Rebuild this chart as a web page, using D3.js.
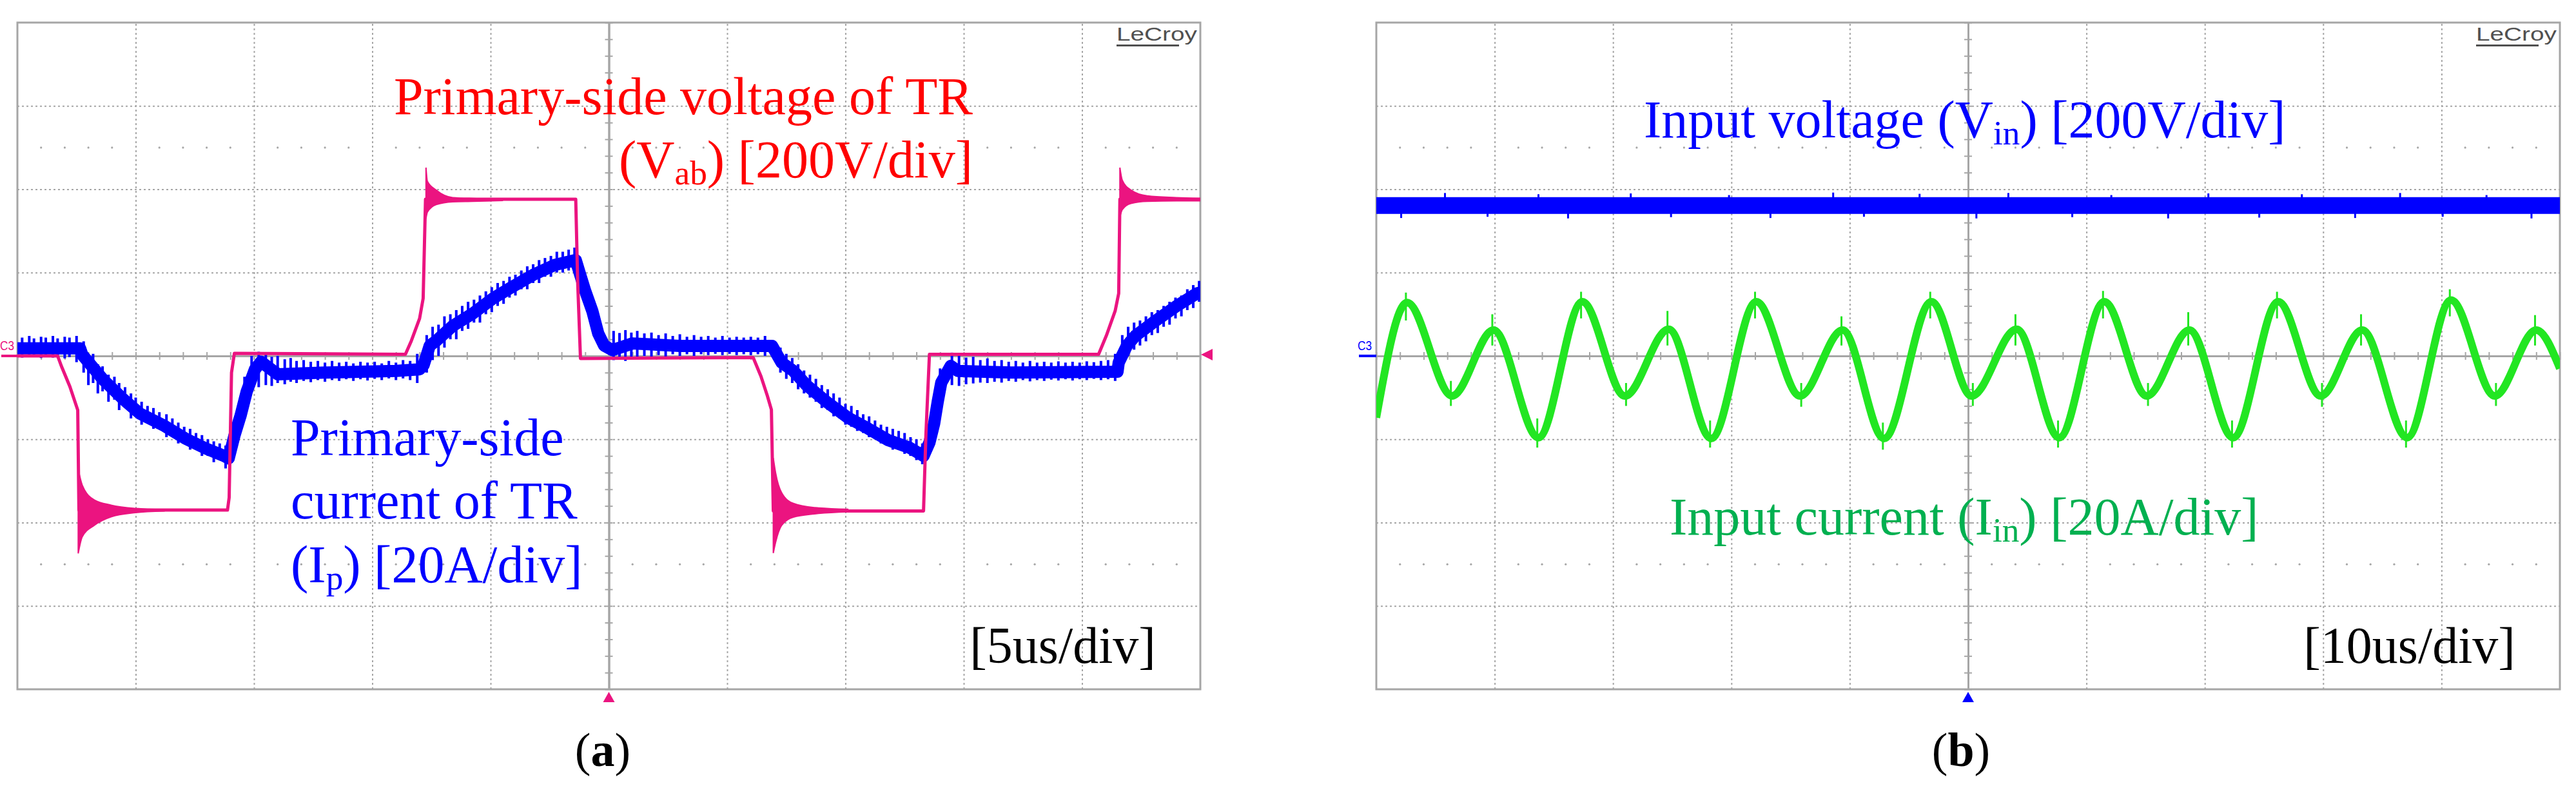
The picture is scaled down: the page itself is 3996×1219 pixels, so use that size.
<!DOCTYPE html>
<html>
<head>
<meta charset="utf-8">
<script src="https://cdn.jsdelivr.net/npm/d3@7/dist/d3.min.js"></script>
<style>
  body { margin: 0; background: #fff; }
  svg text { font-family: "Liberation Serif", "Times New Roman", serif; }
</style>
</head>
<body>
<svg width="3996" height="1219"></svg>
<script>
// ---------- (a) 5 us/div : Vab [V] 200 V/div, Ip [A] 20 A/div ----------
const vabTime = [0, 1.7, 1.87, 2.22, 2.55, 2.6, 8.88, 8.95, 9.05, 9.17, 16.4, 16.65, 17.0, 17.15, 17.25,
  23.6, 23.68, 23.8, 31.1, 31.43, 31.7, 31.87, 31.95, 38.3, 38.4, 38.55, 45.7, 46.03, 46.4, 46.55, 46.6, 50];
const vabVolt = [0, 0, -26, -74, -130, -370, -370, -340, -40, 6, 4, 36, 90, 138, 376,
  376, 180, -6, -4, -49, -96, -129, -372, -372, -190, 4, 4, 49, 108, 150, 376, 376];

// ringing after each switching edge: [t, upper, lower]
const vabRing1 = [[2.57, -272, -474], [2.74, -310, -434], [3.26, -346, -406], [3.96, -358, -386], [5.0, -366, -376], [6.2, -369, -372]];
const vabRing2 = [[17.27, 452, 330], [17.33, 419, 345], [17.7, 398, 363], [18.4, 380, 370], [19.25, 378, 371], [20.5, 377, 373]];
const vabRing3 = [[31.95, -245, -473], [32.05, -281, -447], [32.3, -328, -407], [32.8, -354, -387], [33.7, -364, -379], [35.1, -368, -374]];
const vabRing4 = [[46.6, 452, 333], [46.7, 422, 351], [47.07, 398, 366], [47.77, 384, 371], [48.98, 380, 372], [50, 378, 372]];

const ipTime = [0, 2.65, 2.74, 3.61, 4.48, 5.17, 6.22, 7.09, 7.96, 8.74, 8.93, 9.17, 9.43, 9.69, 10.04, 10.3, 11.0, 13.0, 16.0, 17.0,
  17.17, 17.43, 17.7, 18.4, 19.25, 20.1, 20.98, 21.85, 22.7, 23.6, 23.75, 24.0, 24.3, 24.55, 24.8, 25.15, 26.0, 28.0, 31.9,
  32.3, 32.8, 33.35, 34.2, 35.1, 35.95, 36.8, 37.7, 38.3, 38.55, 38.75, 38.9, 39.05, 39.45, 39.75, 42.0, 46.5,
  46.55, 46.9, 47.25, 48.1, 49.0, 49.85, 50];
const ipAmp = [1.8, 1.8, 0.3, -5.6, -10.4, -13.8, -16.8, -19.8, -22.2, -24, -24.6, -19.2, -14.4, -8.6, -3.2, -1.4, -4.4, -4.0, -3.6, -3.2,
  -2.2, 2.5, 3.6, 7.2, 10.2, 13.8, 16.8, 19.6, 21.8, 23.0, 20.2, 15.6, 10.8, 5.4, 2.5, 1.4, 3.0, 2.4, 2.4,
  -1.6, -3.6, -7.0, -11.0, -14.8, -17.4, -20.2, -22.0, -24.0, -20.8, -16.2, -11.0, -6.4, -2.4, -3.6, -4.0, -3.8,
  -1.6, 2.5, 4.8, 8.4, 12.0, 15.0, 15.2];

// visible switching-noise spikes on Ip: [t, low, high]
const ipSpikes = [
  [0.2, -0.4, 4.4], [0.5, 0.0, 4.8], [0.7, -0.3, 4.2], [1.0, -0.5, 4.6], [1.2, 0.0, 4.4], [1.5, -0.4, 4.8],
  [1.7, -0.2, 4.2], [2.0, -0.6, 4.6], [2.2, -0.3, 4.4], [2.5, -1.5, 4.8],
  [2.8, -4.0, 3.5], [3.0, -7.0, -0.5], [3.2, -6.5, 0.5], [3.4, -9.0, -2.0], [3.6, -8.5, -2.5], [3.85, -11.0, -4.5],
  [4.1, -10.5, -5.0], [4.3, -13.0, -6.5], [4.55, -12.5, -7.5], [4.8, -15.0, -9.0], [5.0, -14.5, -10.0], [5.25, -16.5, -11.0],
  [5.5, -16.0, -12.0], [5.75, -17.5, -12.5], [6.0, -17.5, -13.5], [6.3, -19.5, -14.0], [6.55, -19.0, -15.0], [6.8, -21.0, -16.0],
  [7.05, -21.0, -17.0], [7.3, -22.5, -17.5], [7.55, -22.0, -18.5], [7.8, -24.0, -19.0], [8.05, -24.0, -20.0], [8.3, -25.5, -20.5],
  [8.55, -25.0, -21.0], [8.8, -27.0, -21.5],
  [9.3, -20.0, -13.0], [9.6, -13.0, -5.0], [9.9, -8.0, 0.0],
  [10.2, -7.5, 1.0], [10.5, -7.0, 0.5], [10.75, -7.2, -0.2], [11.0, -6.5, 0.0], [11.3, -6.8, -0.8], [11.55, -6.2, -0.5],
  [11.8, -6.5, -1.2], [12.1, -6.0, -1.0], [12.4, -6.3, -1.4], [12.7, -5.8, -1.2], [13.0, -6.2, -1.6], [13.3, -5.8, -1.2],
  [13.6, -6.0, -1.6], [13.9, -5.6, -1.4], [14.2, -6.0, -1.8], [14.5, -5.6, -1.4], [14.8, -5.9, -1.6], [15.1, -5.5, -1.4],
  [15.4, -5.8, -1.8], [15.7, -5.4, -1.2], [16.0, -5.8, -1.6], [16.3, -5.4, -1.0], [16.6, -5.8, -1.2], [16.9, -6.5, 0.5],
  [17.3, -4.0, 5.0], [17.55, -1.0, 7.0], [17.8, 0.0, 7.5], [18.05, 2.0, 9.5], [18.3, 4.0, 10.0], [18.55, 4.0, 11.0],
  [18.8, 6.0, 12.0], [19.05, 6.5, 13.0], [19.3, 8.0, 13.5], [19.55, 8.0, 14.5], [19.8, 10.0, 15.5], [20.05, 10.5, 16.5],
  [20.3, 12.0, 17.5], [20.55, 12.5, 18.0], [20.8, 14.0, 19.0], [21.05, 14.5, 19.5], [21.3, 16.0, 20.5], [21.55, 16.0, 21.5],
  [21.8, 17.5, 22.0], [22.05, 17.5, 23.0], [22.3, 19.0, 23.5], [22.55, 19.0, 24.0], [22.8, 20.0, 25.0], [23.05, 20.0, 25.0],
  [23.3, 20.5, 25.5], [23.55, 20.5, 26.0],
  [25.2, -1.0, 6.0], [25.45, -0.5, 5.5], [25.7, -1.2, 6.2], [25.95, -0.2, 5.6], [26.2, -0.6, 6.0], [26.5, 0.0, 5.4],
  [26.8, -0.4, 5.6], [27.1, 0.2, 5.0], [27.4, -0.2, 5.4], [27.7, 0.4, 4.8], [28.0, 0.0, 5.2], [28.3, 0.4, 4.6],
  [28.6, 0.0, 5.0], [28.9, 0.4, 4.6], [29.2, 0.2, 4.8], [29.5, 0.5, 4.4], [29.8, 0.2, 4.8], [30.1, 0.5, 4.4],
  [30.4, 0.2, 4.6], [30.7, 0.4, 4.4], [31.0, 0.2, 4.6], [31.3, 0.4, 4.4], [31.6, 0.0, 4.8],
  [32.25, -4.0, 2.0], [32.5, -5.5, 0.5], [32.75, -6.5, -0.5], [33.0, -8.0, -2.0], [33.25, -9.0, -3.5], [33.5, -10.0, -4.5],
  [33.75, -11.0, -5.5], [34.0, -12.5, -7.0], [34.25, -13.0, -8.0], [34.5, -14.5, -9.0], [34.75, -15.0, -10.0], [35.0, -16.5, -11.5],
  [35.25, -17.0, -12.0], [35.5, -18.0, -13.0], [35.75, -18.5, -14.0], [36.0, -19.5, -14.5], [36.25, -20.0, -15.5], [36.5, -21.0, -16.5],
  [36.75, -21.5, -17.0], [37.0, -22.5, -17.5], [37.25, -22.5, -18.0], [37.5, -23.5, -18.5], [37.75, -24.0, -19.5], [38.0, -25.0, -20.0],
  [38.25, -26.0, -21.0],
  [38.7, -21.0, -12.0], [39.0, -12.0, -3.0],
  [39.5, -7.0, 0.8], [39.8, -7.2, 0.2], [40.1, -6.8, -0.4], [40.4, -6.6, -0.2], [40.7, -6.4, -1.0], [41.0, -6.5, -0.6],
  [41.3, -6.2, -1.2], [41.6, -6.4, -1.0], [41.9, -6.0, -1.4], [42.2, -6.2, -1.2], [42.5, -5.8, -1.6], [42.8, -6.1, -1.2],
  [43.1, -5.8, -1.6], [43.4, -6.0, -1.4], [43.7, -5.7, -1.6], [44.0, -5.9, -1.3], [44.3, -5.6, -1.6], [44.6, -5.9, -1.4],
  [44.9, -5.6, -1.6], [45.2, -5.8, -1.3], [45.5, -5.5, -1.5], [45.8, -5.8, -1.2], [46.1, -5.6, -1.0], [46.4, -6.0, 0.5],
  [46.7, -3.0, 5.0], [46.95, 0.0, 7.0], [47.2, 1.5, 8.0], [47.45, 2.5, 8.5], [47.7, 3.5, 9.5], [47.95, 5.0, 10.5],
  [48.2, 5.5, 11.0], [48.45, 7.0, 12.0], [48.7, 7.5, 13.0], [48.95, 9.0, 14.0], [49.2, 9.5, 14.5], [49.45, 11.0, 16.0],
  [49.7, 11.5, 17.0], [49.95, 13.0, 18.0]
];

// ---------- (b) 10 us/div : Vin [V] 200 V/div, Iin [A] 20 A/div ----------
const vinTime = [0, 100];
const vinVolt = [361, 361];
const vinSpikes = [
  [2.1, 331, 360], [5.8, 356, 391], [9.4, 334, 360], [13.7, 357, 388], [16.2, 330, 358], [21.5, 355, 390],
  [24.9, 333, 361], [29.8, 354, 386], [33.3, 331, 360], [38.6, 358, 392], [41.2, 334, 360], [45.9, 355, 389],
  [50.7, 330, 358], [53.4, 357, 391], [58.8, 333, 360], [62.1, 352, 386], [66.9, 330, 361], [70.3, 356, 390],
  [74.6, 332, 360], [78.2, 355, 388], [82.7, 331, 358], [86.5, 357, 391], [90.1, 334, 360], [93.8, 352, 386], [97.6, 330, 361]
];

const iinTime = [0, 2.6, 6.4, 9.9, 13.7, 17.4, 21.0, 24.7, 28.3, 32.1, 35.8, 39.4, 42.9, 46.9, 50.3,
  54.1, 57.7, 61.5, 65.1, 68.7, 72.4, 76.2, 79.8, 83.3, 87.1, 90.8, 94.5, 98.0, 100];
const iinAmp = [-14.8, 12.8, -9.6, 6.2, -19.6, 13.0, -9.6, 6.4, -19.8, 13.0, -9.6, 6.2, -19.8, 13.0, -9.6,
  6.4, -19.6, 13.0, -9.6, 6.2, -19.6, 13.0, -9.6, 6.2, -19.6, 13.4, -9.6, 6.2, -3.0];
const iinSpikes = [
  [2.5, 8.5, 15.2], [6.3, -12, -6], [9.8, 2.5, 10.0], [13.6, -22, -15], [17.3, 9, 15.4], [21.1, -12, -6.5],
  [24.6, 2.5, 10.8], [28.2, -22, -15.5], [32.0, 9, 15.4], [35.9, -12.2, -6.5], [39.3, 2.5, 9.5], [42.8, -22.5, -16],
  [46.8, 9, 15.4], [50.4, -12, -6.5], [54.0, 2.5, 10], [57.6, -22, -15.5], [61.4, 9, 15.6], [65.2, -12, -6.5],
  [68.6, 2.5, 10.5], [72.3, -22, -15.5], [76.1, 9, 15.4], [79.9, -12.2, -6.5], [83.2, 2.5, 10], [87.0, -22, -15.5],
  [90.7, 9.5, 16], [94.6, -12, -6.5], [97.9, 2.5, 9.8]
];

// ---------- styling ----------
const PINK = "#eb1480";
const BLUE = "#0000ff";
const GREEN = "#22e622";
const GREEN_TEXT = "#00b050";
const GRID = "#a6a6a6";

const svg = d3.select("svg");
svg.append("rect").attr("width", 3996).attr("height", 1219).attr("fill", "#fff");

const frameA = { x0: 27, x1: 1862, y0: 35, y1: 1069, id: "clipA" };
const frameB = { x0: 2135, x1: 3971, y0: 35, y1: 1069, id: "clipB" };

const scopeGrid = (selection, frame) => {
  const { x0, x1, y0, y1, id } = frame;
  const gx = d3.scaleLinear().domain([0, 10]).range([x0, x1]);
  const gy = d3.scaleLinear().domain([-4, 4]).range([y1, y0]);
  const g = selection.append("g");

  const styleGrid = ax => {
    ax.select(".domain").remove();
    ax.selectAll("line").attr("stroke", GRID).attr("stroke-width", 2).attr("stroke-dasharray", "3,4");
  };

  g.append("g")
    .attr("transform", `translate(0,${y1})`)
    .call(d3.axisBottom(gx).tickValues([1, 2, 3, 4, 6, 7, 8, 9]).tickSize(-(y1 - y0)).tickFormat(""))
    .call(styleGrid);
  g.append("g")
    .attr("transform", `translate(${x0},0)`)
    .call(d3.axisLeft(gy).tickValues([-3, -2, -1, 1, 2, 3]).tickSize(-(x1 - x0)).tickFormat(""))
    .call(styleGrid);

  // sparse dot rows at +/-2.5 div
  const minor = d3.range(0.2, 10, 0.2).filter(v => Math.abs(v - Math.round(v)) > 0.05);
  [2.5, -2.5].forEach(r => {
    g.selectAll(null).data(minor).join("circle")
      .attr("cx", d => gx(d)).attr("cy", gy(r)).attr("r", 1.6).attr("fill", GRID);
  });

  // centre axes with minor ticks
  const minorX = d3.range(0, 10.001, 0.2);
  const minorY = d3.range(-4, 4.001, 0.2);
  const styleAxis = ax => {
    ax.select(".domain").attr("stroke", GRID).attr("stroke-width", 3);
    ax.selectAll("line").attr("stroke", GRID).attr("stroke-width", 2);
  };
  [d3.axisBottom, d3.axisTop].forEach(a => {
    g.append("g").attr("transform", `translate(0,${gy(0)})`)
      .call(a(gx).tickValues(minorX).tickSize(6).tickSizeOuter(0).tickFormat(""))
      .call(styleAxis);
  });
  [d3.axisLeft, d3.axisRight].forEach(a => {
    g.append("g").attr("transform", `translate(${gx(5)},0)`)
      .call(a(gy).tickValues(minorY).tickSize(6).tickSizeOuter(0).tickFormat(""))
      .call(styleAxis);
  });

  g.append("rect")
    .attr("x", x0).attr("y", y0).attr("width", x1 - x0).attr("height", y1 - y0)
    .attr("fill", "none").attr("stroke", GRID).attr("stroke-width", 3);

  svg.append("clipPath").attr("id", id)
    .append("rect").attr("x", x0).attr("y", y0).attr("width", x1 - x0).attr("height", y1 - y0);

  // LeCroy logo
  const logo = g.append("g");
  logo.append("text")
    .attr("x", x1 - 130).attr("y", 63)
    .attr("font-size", 29)
    .attr("textLength", 125).attr("lengthAdjust", "spacingAndGlyphs")
    .attr("fill", "#505050")
    .style("font-family", "'Liberation Sans', Arial, sans-serif")
    .text("LeCroy");
  logo.append("rect").attr("x", x1 - 130).attr("y", 69).attr("width", 97).attr("height", 3).attr("fill", "#505050");

  return { gx, gy };
};

const gridA = scopeGrid(svg, frameA);
const gridB = scopeGrid(svg, frameB);

// ---------- panel (a) traces ----------
const xA = d3.scaleLinear().domain([0, 50]).range([frameA.x0, frameA.x1]);
const yVa = d3.scaleLinear().domain([-800, 800]).range([frameA.y1, frameA.y0]);
const yIa = d3.scaleLinear().domain([-80, 80]).range([frameA.y1, frameA.y0]);

const tracesA = svg.append("g").attr("clip-path", "url(#clipA)");

const ipLine = d3.line().x(d => xA(d[0])).y(d => yIa(d[1]));
tracesA.append("path")
  .datum(ipTime.map((t, i) => [t, ipAmp[i]]))
  .attr("d", ipLine)
  .attr("fill", "none").attr("stroke", BLUE).attr("stroke-width", 19).attr("stroke-linejoin", "round");
tracesA.selectAll(".ipspike").data(ipSpikes).join("line")
  .attr("x1", d => xA(d[0])).attr("x2", d => xA(d[0]))
  .attr("y1", d => yIa(d[1])).attr("y2", d => yIa(d[2]))
  .attr("stroke", BLUE).attr("stroke-width", 4);

const vabLine = d3.line().x(d => xA(d[0])).y(d => yVa(d[1]));
tracesA.append("path")
  .datum(vabTime.map((t, i) => [t, vabVolt[i]]))
  .attr("d", vabLine)
  .attr("fill", "none").attr("stroke", PINK).attr("stroke-width", 5).attr("stroke-linejoin", "round");

const ringArea = d3.area().x(d => xA(d[0])).y0(d => yVa(d[2])).y1(d => yVa(d[1])).curve(d3.curveMonotoneX);
[vabRing1, vabRing2, vabRing3, vabRing4].forEach(r => {
  tracesA.append("path").datum(r).attr("d", ringArea).attr("fill", PINK).attr("stroke", PINK).attr("stroke-width", 2);
});

// ---------- panel (b) traces ----------
const xB = d3.scaleLinear().domain([0, 100]).range([frameB.x0, frameB.x1]);
const yVb = d3.scaleLinear().domain([-800, 800]).range([frameB.y1, frameB.y0]);
const yIb = d3.scaleLinear().domain([-80, 80]).range([frameB.y1, frameB.y0]);

const tracesB = svg.append("g").attr("clip-path", "url(#clipB)");

tracesB.append("path")
  .datum(vinTime.map((t, i) => [t, vinVolt[i]]))
  .attr("d", d3.line().x(d => xB(d[0])).y(d => yVb(d[1])))
  .attr("fill", "none").attr("stroke", BLUE).attr("stroke-width", 26);
tracesB.selectAll(".vinspike").data(vinSpikes).join("line")
  .attr("x1", d => xB(d[0])).attr("x2", d => xB(d[0]))
  .attr("y1", d => yVb(d[1])).attr("y2", d => yVb(d[2]))
  .attr("stroke", BLUE).attr("stroke-width", 3);

tracesB.append("path")
  .datum(iinTime.map((t, i) => [t, iinAmp[i]]))
  .attr("d", d3.line().x(d => xB(d[0])).y(d => yIb(d[1])).curve(d3.curveMonotoneX))
  .attr("fill", "none").attr("stroke", GREEN).attr("stroke-width", 12).attr("stroke-linejoin", "round");
tracesB.selectAll(".iinspike").data(iinSpikes).join("line")
  .attr("x1", d => xB(d[0])).attr("x2", d => xB(d[0]))
  .attr("y1", d => yIb(d[1])).attr("y2", d => yIb(d[2]))
  .attr("stroke", GREEN).attr("stroke-width", 3);

// ---------- markers ----------
const marker = (x, y, color, dir) => {
  const s = 9;
  const pts = dir === "up"
    ? [[x, y], [x - s, y + 16], [x + s, y + 16]]
    : [[x, y], [x + 18, y - s], [x + 18, y + s]];
  svg.append("polygon").attr("points", pts.map(p => p.join(",")).join(" ")).attr("fill", color);
};
marker(gridA.gx(5), frameA.y1 + 4, PINK, "up");
marker(gridB.gx(5), frameB.y1 + 4, BLUE, "up");
marker(frameA.x1 + 1, gridA.gy(0) - 2, PINK, "left");

const chanTag = (x, color, frame, grid) => {
  svg.append("text").attr("x", x).attr("y", 543)
    .attr("font-size", 20).attr("textLength", 22).attr("lengthAdjust", "spacingAndGlyphs")
    .style("font-family", "'Liberation Sans', Arial, sans-serif")
    .attr("fill", color).text("C3");
  svg.append("line").attr("x1", x + 2).attr("x2", frame.x0).attr("y1", grid.gy(0)).attr("y2", grid.gy(0))
    .attr("stroke", color).attr("stroke-width", 4);
};
chanTag(0, PINK, frameA, gridA);
chanTag(2106, BLUE, frameB, gridB);

// ---------- labels ----------
const label = (x, y, anchor, color, size, parts) => {
  const t = svg.append("text").attr("x", x).attr("y", y)
    .attr("text-anchor", anchor).attr("fill", color).attr("font-size", size);
  let shifted = 0;
  parts.forEach(p => {
    const s = t.append("tspan").text(p.text);
    if (p.sub) {
      s.attr("font-size", size * 0.65).attr("dy", 11 - shifted);
      shifted = 11;
    } else if (shifted) {
      s.attr("dy", -shifted);
      shifted = 0;
    }
    if (p.bold) s.attr("font-weight", "bold");
  });
};

label(1509, 177, "end", "#ff0000", 82, [{ text: "Primary-side voltage of TR" }]);
label(1509, 275, "end", "#ff0000", 82, [{ text: "(V" }, { text: "ab", sub: true }, { text: ") [200V/div]" }]);
label(451, 706, "start", BLUE, 82, [{ text: "Primary-side" }]);
label(451, 804, "start", BLUE, 82, [{ text: "current of TR" }]);
label(451, 903, "start", BLUE, 82, [{ text: "(I" }, { text: "p", sub: true }, { text: ") [20A/div]" }]);
label(1793, 1028, "end", "#000", 80, [{ text: "[5us/div]" }]);
label(935, 1188, "middle", "#000", 74, [{ text: "(" }, { text: "a", bold: true }, { text: ")" }]);

label(2550, 213, "start", BLUE, 82, [{ text: "Input voltage (V" }, { text: "in", sub: true }, { text: ") [200V/div]" }]);
label(2590, 829, "start", GREEN_TEXT, 82, [{ text: "Input current (I" }, { text: "in", sub: true }, { text: ") [20A/div]" }]);
label(3902, 1028, "end", "#000", 80, [{ text: "[10us/div]" }]);
label(3042, 1188, "middle", "#000", 74, [{ text: "(" }, { text: "b", bold: true }, { text: ")" }]);
</script>
</body>
</html>
